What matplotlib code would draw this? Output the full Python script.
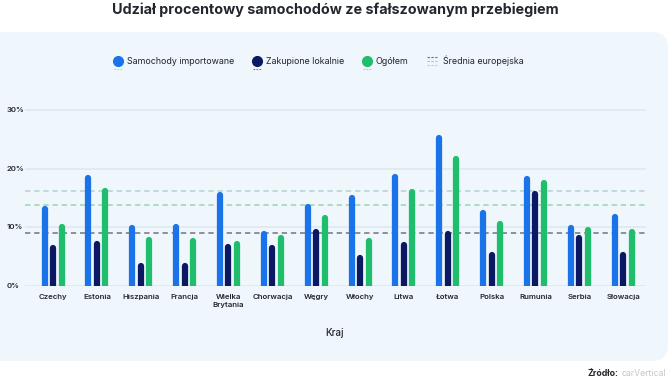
import matplotlib
matplotlib.use("Agg")
import matplotlib.pyplot as plt
import numpy as np
from matplotlib.lines import Line2D
from matplotlib.patches import FancyBboxPatch
from matplotlib.transforms import IdentityTransform

# data (percent)
countries = ["Czechy", "Estonia", "Hiszpania", "Francja", "Wielka\nBrytania",
             "Chorwacja", "Węgry", "Włochy", "Litwa", "Łotwa", "Polska",
             "Rumunia", "Serbia", "Słowacja"]
imported = [13.1, 18.4, 9.9, 10.1, 15.5, 8.9, 13.4, 15.0, 18.5, 25.2, 12.5, 18.2, 9.9, 11.8]
local = [6.4, 7.1, 3.4, 3.4, 6.6, 6.4, 9.2, 4.8, 6.9, 8.9, 5.2, 15.7, 8.2, 5.2]
overall = [10.1, 16.2, 7.9, 7.6, 7.2, 8.1, 11.5, 7.6, 16.0, 21.6, 10.6, 17.5, 9.6, 9.2]
avg_imported = 16.2
avg_local = 9.1
avg_overall = 13.8
yticks = [0, 10, 20, 30]
ytick_labels = ["0%", "10%", "20%", "30%"]

C_IMP = "#1a73e8"
C_LOC = "#0b1965"
C_ALL = "#1ebe6c"
C_AVG_IMP = "#b3d3cf"
C_AVG_ALL = "#9ad6ae"
C_AVG_LOC = "#6f7581"
TXT = "#22262e"
FONT = "Inter"

W, H = 670, 382
fig = plt.figure(figsize=(W / 100, H / 100), dpi=100)
fig.patch.set_facecolor("white")

# light panel behind the chart (pixel coords, origin bottom-left)
panel = FancyBboxPatch((-30, H - 361), 698, 329,
                       boxstyle="round,pad=0,rounding_size=16",
                       transform=IdentityTransform(), facecolor="#eff6fc",
                       edgecolor="none", zorder=-5)
fig.patches.append(panel)

fig.text(0.5, 1 - 10 / H, "Udział procentowy samochodów ze sfałszowanym przebiegiem",
         ha="center", va="center", fontsize=10.3, fontweight="bold",
         family=FONT, color=TXT)

ax = fig.add_axes([25 / W, 1 - 286 / H, (646 - 25) / W, (286 - 104) / H])
ax.set_facecolor("none")
for s in ax.spines.values():
    s.set_visible(False)

x = np.arange(len(countries))
off = 0.194
lw = 4.5
ax.vlines(x - off, 0, imported, colors=C_IMP, lw=lw, capstyle="round", zorder=3)
ax.vlines(x, 0, local, colors=C_LOC, lw=lw, capstyle="round", zorder=3)
ax.vlines(x + off, 0, overall, colors=C_ALL, lw=lw, capstyle="round", zorder=3)

for val, col in [(avg_imported, C_AVG_IMP), (avg_overall, C_AVG_ALL), (avg_local, C_AVG_LOC)]:
    ax.axhline(val, color=col, lw=1.1, ls=(0, (3.5, 2.5)), zorder=2)

ax.set_xlim(-0.64, len(countries) - 0.48)
ax.set_ylim(0, 31)
ax.set_yticks(yticks)
ax.set_yticklabels([])
ax.grid(axis="y", color="#dce8f2", lw=1.2, zorder=1)
ax.tick_params(length=0)
ax.set_xticks(x)
ax.set_xticklabels(countries, fontsize=5.6, fontweight="semibold", family=FONT,
                   color=TXT, linespacing=1.35, va="top")
ax.tick_params(axis="x", pad=6)

for v, lab in zip(yticks, ytick_labels):
    ax.text(-20 / W, v, lab, transform=ax.get_yaxis_transform(), ha="left",
            va="center", fontsize=5.6, fontweight="semibold", family=FONT, color=TXT)

fig.text(335 / W, 1 - 333 / H, "Kraj", ha="center", va="center", fontsize=7,
         fontweight="medium", family=FONT, color=TXT)

# legend drawn by hand
ly = 1 - 61 / H
items = [(118, C_IMP, C_AVG_IMP, "Samochody importowane"),
         (257, C_LOC, C_AVG_LOC, "Zakupione lokalnie"),
         (367, C_ALL, C_AVG_ALL, "Ogółem")]
for px, col, dcol, label in items:
    fig.add_artist(Line2D([(px - 4) / W, (px + 4) / W], [1 - 68.5 / H] * 2,
                          color=dcol, lw=0.8, ls=(0, (1.5, 1.2))))
    fig.add_artist(Line2D([px / W], [ly], marker="o", ms=7, color=col, mec=col))
    fig.text((px + 9) / W, ly, label, ha="left", va="center", fontsize=6.4,
             family=FONT, color=TXT)
for dy, col in [(-4, C_AVG_IMP), (0, C_AVG_ALL), (4, C_AVG_LOC)]:
    fig.add_artist(Line2D([427 / W, 437 / W], [ly + dy / H] * 2, color=col,
                          lw=0.8, ls=(0, (2.2, 1.3))))
fig.text(443 / W, ly, "Średnia europejska", ha="left", va="center", fontsize=6.4,
         family=FONT, color=TXT)

t = fig.text(666 / W, 1 - 374 / H, "carVertical", ha="right", va="center",
             fontsize=6.3, family=FONT, color="#c4c6cc")
fig.canvas.draw()
bb = t.get_window_extent()
fig.text((bb.x0 - 3) / W, 1 - 374 / H, "Źródło:", ha="right", va="center",
         fontsize=6.3, fontweight="bold", family=FONT, color=TXT)

fig.savefig("out.png", dpi=100, facecolor="white")
